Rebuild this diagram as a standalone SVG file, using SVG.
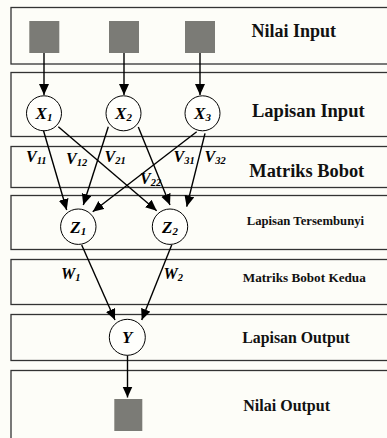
<svg xmlns="http://www.w3.org/2000/svg" width="387" height="438" viewBox="0 0 387 438">
<defs>
<marker id="ah" markerWidth="11" markerHeight="11" refX="11" refY="5" orient="auto" markerUnits="userSpaceOnUse">
<path d="M0,0 L11,5 L0,10 z" fill="#000"/>
</marker>
<style>
.band{fill:#fdfdf8;stroke:#333;stroke-width:1.3}
.sq{fill:#7b7b76}
.nd{fill:#fffffc;stroke:#000;stroke-width:1}
.cn{stroke:#000;stroke-width:1.4;fill:none;marker-end:url(#ah)}
.nl{font-family:"Liberation Serif",serif;font-weight:bold;font-style:italic;font-size:17px;fill:#000;text-anchor:middle}
.sub{font-size:11px}
.wl{font-family:"Liberation Serif",serif;font-weight:bold;font-style:italic;font-size:16px;fill:#000}
.ws{font-size:10.5px}
.lb{font-family:"Liberation Serif",serif;font-weight:bold;fill:#111}
</style>
</defs>
<rect x="0" y="0" width="387" height="438" fill="#fdfdf8"/>
<g id="bands">
<rect class="band" x="11" y="7.5" width="390" height="56.5"/>
<rect class="band" x="11" y="72.5" width="390" height="64"/>
<rect class="band" x="11" y="146.5" width="390" height="41"/>
<rect class="band" x="11" y="195.5" width="390" height="54"/>
<rect class="band" x="11" y="259.5" width="390" height="45"/>
<rect class="band" x="11" y="314.5" width="390" height="46"/>
<rect class="band" x="11" y="370.5" width="390" height="80"/>
</g>
<g id="band-labels">
<text class="lb" x="251.5" y="37.3" font-size="18px">Nilai Input</text>
<text class="lb" x="252" y="116.5" font-size="18.5px">Lapisan Input</text>
<text class="lb" x="249.3" y="176.5" font-size="18.4px">Matriks Bobot</text>
<text class="lb" x="246.7" y="225" font-size="12.7px">Lapisan Tersembunyi</text>
<text class="lb" x="242.7" y="281.5" font-size="13.2px">Matriks Bobot Kedua</text>
<text class="lb" x="242.3" y="343.3" font-size="15.8px">Lapisan Output</text>
<text class="lb" x="243.3" y="411" font-size="16px">Nilai Output</text>
</g>
<g id="connectors">
<line class="cn" x1="44" y1="53" x2="44" y2="95"/>
<line class="cn" x1="124" y1="53" x2="124" y2="95"/>
<line class="cn" x1="200" y1="53" x2="200" y2="95"/>
<line class="cn" x1="43.3" y1="130" x2="66.7" y2="210"/>
<line class="cn" x1="58.3" y1="126.7" x2="156.7" y2="210.7"/>
<line class="cn" x1="108.3" y1="126.7" x2="83.3" y2="205"/>
<line class="cn" x1="138.3" y1="127" x2="170" y2="205"/>
<line class="cn" x1="196.7" y1="131.7" x2="92.7" y2="211.7"/>
<line class="cn" x1="205" y1="133.3" x2="186.7" y2="206.7"/>
<line class="cn" x1="81.7" y1="245" x2="115" y2="320"/>
<line class="cn" x1="171.7" y1="245" x2="141.7" y2="320"/>
<line class="cn" x1="127.5" y1="355.3" x2="127.5" y2="397.5"/>
</g>
<g id="weight-labels">
<text class="wl" x="26" y="162">V<tspan class="ws" dy="2">11</tspan></text>
<text class="wl" x="66" y="164">V<tspan class="ws" dy="2">12</tspan></text>
<text class="wl" x="104.5" y="161.5">V<tspan class="ws" dy="2">21</tspan></text>
<text class="wl" x="140" y="183.5">V<tspan class="ws" dy="2">22</tspan></text>
<text class="wl" x="173.5" y="162">V<tspan class="ws" dy="2">31</tspan></text>
<text class="wl" x="204.5" y="162">V<tspan class="ws" dy="2">32</tspan></text>
<text class="wl" x="61" y="279">W<tspan class="ws" dy="2">1</tspan></text>
<text class="wl" x="163.5" y="279">W<tspan class="ws" dy="2">2</tspan></text>
</g>
<g id="in1"><rect class="sq" x="29.3" y="21" width="30" height="32"/></g>
<g id="in2"><rect class="sq" x="109" y="21" width="30" height="32"/></g>
<g id="in3"><rect class="sq" x="185" y="21" width="30" height="32"/></g>
<g id="x1"><circle class="nd" cx="44" cy="113.3" r="17.5"/><text class="nl" x="44" y="119.3">X<tspan class="sub" dy="2">1</tspan></text></g>
<g id="x2"><circle class="nd" cx="123.5" cy="113.3" r="17.5"/><text class="nl" x="123.5" y="119.3">X<tspan class="sub" dy="2">2</tspan></text></g>
<g id="x3"><circle class="nd" cx="202.5" cy="113.3" r="17.5"/><text class="nl" x="202.5" y="119.3">X<tspan class="sub" dy="2">3</tspan></text></g>
<g id="z1"><circle class="nd" cx="78.3" cy="226.7" r="17.7"/><text class="nl" x="78.3" y="233.3">Z<tspan class="sub" dy="2">1</tspan></text></g>
<g id="z2"><circle class="nd" cx="170" cy="226.7" r="17.7"/><text class="nl" x="170" y="233.3">Z<tspan class="sub" dy="2">2</tspan></text></g>
<g id="y"><circle class="nd" cx="127.3" cy="337.3" r="18"/><text class="nl" x="127.3" y="343.3">Y</text></g>
<g id="out"><rect class="sq" x="114.3" y="399" width="28" height="32"/></g>
</svg>
